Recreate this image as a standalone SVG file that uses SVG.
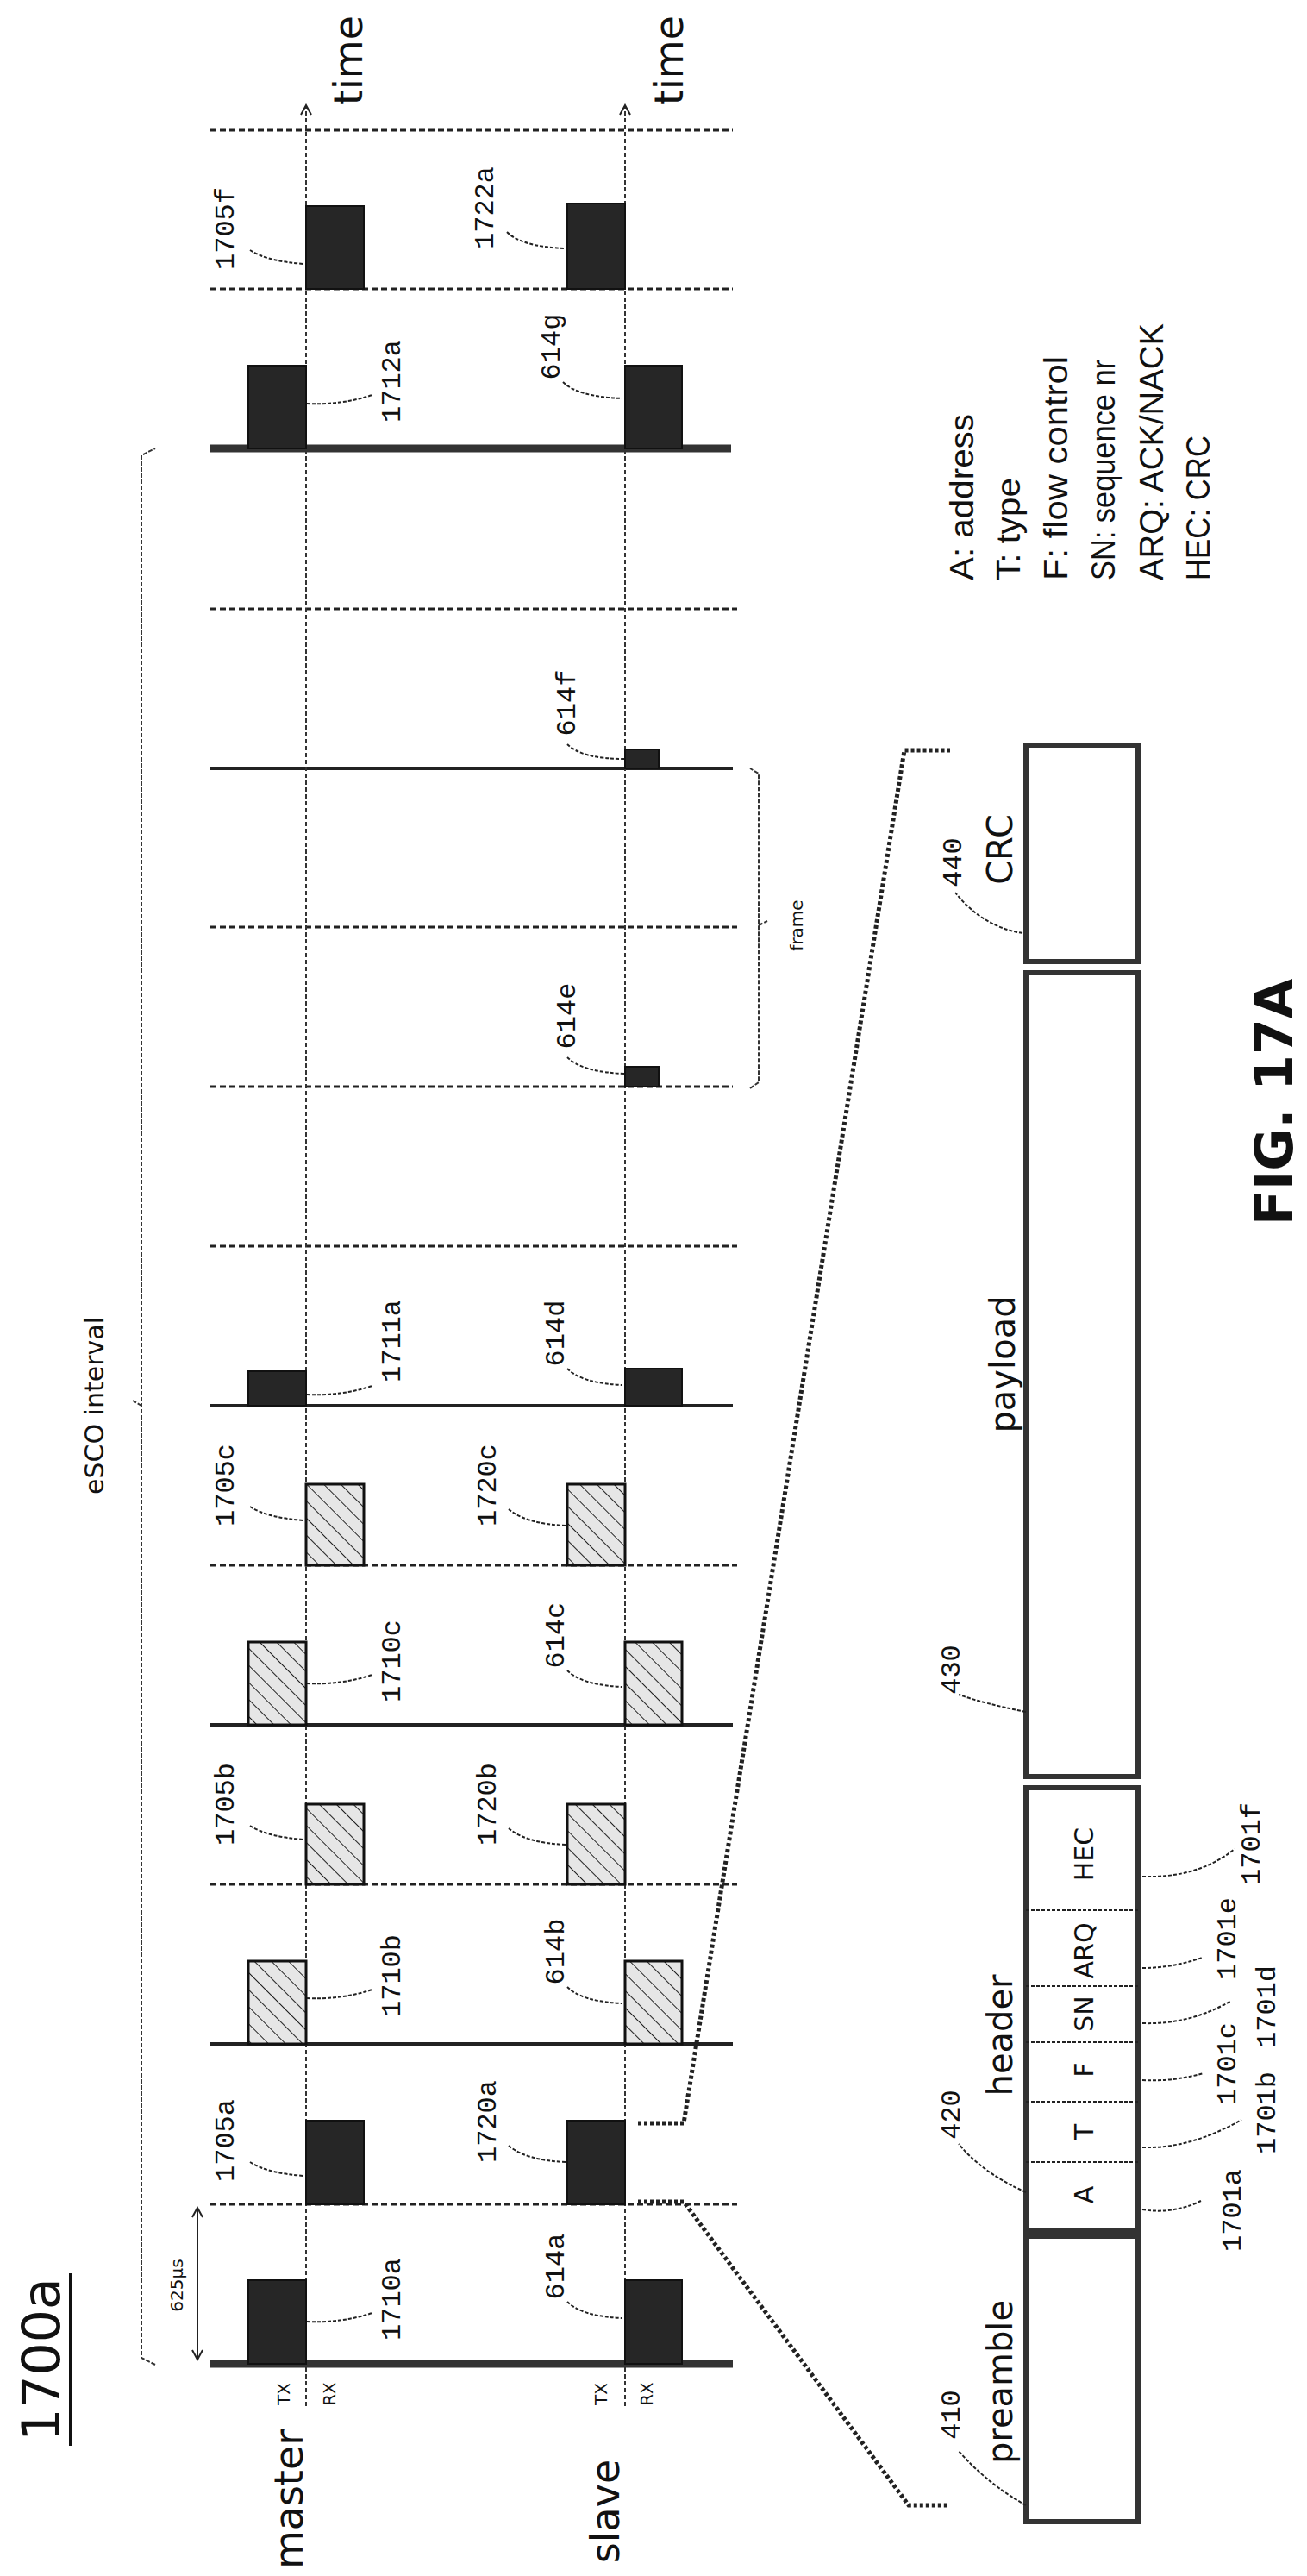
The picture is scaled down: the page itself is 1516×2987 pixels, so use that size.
<svg xmlns="http://www.w3.org/2000/svg" width="1516" height="2987" viewBox="0 0 1516 2987">
<style>
text{font-family:"DejaVu Sans","Liberation Sans",sans-serif;fill:#111;text-anchor:middle;dominant-baseline:central}
.num{font-family:"Liberation Mono","DejaVu Sans Mono",monospace;font-size:32px}
.big{font-size:46px}
.fld{font-size:30px}
.leg{font-family:"Liberation Sans",sans-serif;font-size:38px;text-anchor:start}
.small{font-size:20px}
.blk{fill:#262626;stroke:#111;stroke-width:2}
.hat{fill:url(#hatch);stroke:#111;stroke-width:3}
.dash{stroke:#222;stroke-width:3;stroke-dasharray:7,4;fill:none}
.solid{stroke:#222;stroke-width:4;fill:none}
.thick{stroke:#333;stroke-width:9;fill:none}
.axis{stroke:#333;stroke-width:2;stroke-dasharray:5,3;fill:none}
.lead{stroke:#222;stroke-width:2;stroke-dasharray:4,2;fill:none}
.proj{stroke:#222;stroke-width:5;stroke-dasharray:4,3;fill:none}
.box{fill:#fff;stroke:#333;stroke-width:6}
.brk{stroke:#333;stroke-width:2;stroke-dasharray:5,2;fill:none}
</style>
<defs>
<pattern id="hatch" width="14" height="14" patternUnits="userSpaceOnUse" patternTransform="rotate(-45)">
<rect width="14" height="14" fill="#e6e6e6"/>
<line x1="0" y1="0" x2="0" y2="14" stroke="#222" stroke-width="2"/>
</pattern>
<marker id="arr" markerWidth="14" markerHeight="14" refX="12" refY="7" orient="auto" markerUnits="userSpaceOnUse">
<path d="M1,1 L12,7 L1,13" fill="none" stroke="#222" stroke-width="2"/>
</marker>
<marker id="arrs" markerWidth="14" markerHeight="14" refX="12" refY="7" orient="auto-start-reverse" markerUnits="userSpaceOnUse">
<path d="M1,1 L12,7 L1,13" fill="none" stroke="#222" stroke-width="2"/>
</marker>
</defs>
<rect width="1516" height="2987" fill="#fff"/>

<g id="grid">
<line class="thick" x1="244" y1="2741" x2="850" y2="2741"/>
<line class="dash" x1="244" y1="2556" x2="855" y2="2556"/>
<line class="solid" x1="244" y1="2370" x2="850" y2="2370"/>
<line class="dash" x1="244" y1="2185" x2="855" y2="2185"/>
<line class="solid" x1="244" y1="2000" x2="850" y2="2000"/>
<line class="dash" x1="244" y1="1815" x2="855" y2="1815"/>
<line class="solid" x1="244" y1="1630" x2="850" y2="1630"/>
<line class="dash" x1="244" y1="1445" x2="855" y2="1445"/>
<line class="dash" x1="244" y1="1260" x2="850" y2="1260"/>
<line class="dash" x1="244" y1="1075" x2="855" y2="1075"/>
<line class="solid" x1="244" y1="891" x2="850" y2="891"/>
<line class="dash" x1="244" y1="706" x2="855" y2="706"/>
<line class="thick" x1="244" y1="520" x2="848" y2="520"/>
<line class="dash" x1="244" y1="335" x2="850" y2="335"/>
<line class="dash" x1="244" y1="151" x2="850" y2="151"/>
<line class="axis" x1="355" y1="2790" x2="355" y2="122" marker-end="url(#arr)"/>
<line class="axis" x1="725" y1="2790" x2="725" y2="122" marker-end="url(#arr)"/>
<text class="big" transform="translate(404,70) rotate(-90)">time</text>
<text class="big" transform="translate(776,70) rotate(-90)">time</text>
<text class="big" transform="translate(335,2898) rotate(-90)">master</text>
<text class="big" transform="translate(702,2912) rotate(-90)">slave</text>
<text class="small" transform="translate(329,2776) rotate(-90)">TX</text>
<text class="small" transform="translate(382,2776) rotate(-90)">RX</text>
<text class="small" transform="translate(697,2776) rotate(-90)">TX</text>
<text class="small" transform="translate(750,2776) rotate(-90)">RX</text>
<text style="font-size:60px" transform="translate(48,2736) rotate(-90)">1700a</text>
<line x1="82" y1="2636" x2="82" y2="2836" stroke="#111" stroke-width="4"/>
</g>

<g id="blocks">
<g id="b1710a"><rect class="blk" x="288" y="2644" width="67" height="97"/><text class="num" transform="translate(455,2666) rotate(-90)">1710a</text></g>
<g id="b614a"><rect class="blk" x="725" y="2644" width="66" height="97"/><text class="num" transform="translate(645,2628) rotate(-90)">614a</text></g>
<g id="b1705a"><rect class="blk" x="355" y="2459" width="67" height="97"/><text class="num" transform="translate(262,2482) rotate(-90)">1705a</text></g>
<g id="b1720a"><rect class="blk" x="658" y="2459" width="67" height="97"/><text class="num" transform="translate(566,2460) rotate(-90)">1720a</text></g>
<g id="b1710b"><rect class="hat" x="288" y="2274" width="67" height="96"/><text class="num" transform="translate(455,2291) rotate(-90)">1710b</text></g>
<g id="b614b"><rect class="hat" x="725" y="2274" width="66" height="96"/><text class="num" transform="translate(645,2263) rotate(-90)">614b</text></g>
<g id="b1705b"><rect class="hat" x="355" y="2092" width="67" height="93"/><text class="num" transform="translate(262,2092) rotate(-90)">1705b</text></g>
<g id="b1720b"><rect class="hat" x="658" y="2092" width="67" height="93"/><text class="num" transform="translate(566,2092) rotate(-90)">1720b</text></g>
<g id="b1710c"><rect class="hat" x="288" y="1904" width="67" height="96"/><text class="num" transform="translate(455,1926) rotate(-90)">1710c</text></g>
<g id="b614c"><rect class="hat" x="725" y="1904" width="66" height="96"/><text class="num" transform="translate(645,1896) rotate(-90)">614c</text></g>
<g id="b1705c"><rect class="hat" x="355" y="1721" width="67" height="94"/><text class="num" transform="translate(262,1722) rotate(-90)">1705c</text></g>
<g id="b1720c"><rect class="hat" x="658" y="1721" width="67" height="94"/><text class="num" transform="translate(566,1722) rotate(-90)">1720c</text></g>
<g id="b1711a"><rect class="blk" x="288" y="1590" width="67" height="40"/><text class="num" transform="translate(455,1555) rotate(-90)">1711a</text></g>
<g id="b614d"><rect class="blk" x="725" y="1587" width="66" height="43"/><text class="num" transform="translate(645,1546) rotate(-90)">614d</text></g>
<g id="b614e"><rect class="blk" x="725" y="1237" width="39" height="23"/><text class="num" transform="translate(658,1178) rotate(-90)">614e</text></g>
<g id="b614f"><rect class="blk" x="725" y="869" width="39" height="22"/><text class="num" transform="translate(658,815) rotate(-90)">614f</text></g>
<g id="b1712a"><rect class="blk" x="288" y="424" width="67" height="96"/><text class="num" transform="translate(455,442) rotate(-90)">1712a</text></g>
<g id="b614g"><rect class="blk" x="725" y="424" width="66" height="96"/><text class="num" transform="translate(640,402) rotate(-90)">614g</text></g>
<g id="b1705f"><rect class="blk" x="355" y="239" width="67" height="96"/><text class="num" transform="translate(262,265) rotate(-90)">1705f</text></g>
<g id="b1722a"><rect class="blk" x="658" y="236" width="67" height="99"/><text class="num" transform="translate(563,241) rotate(-90)">1722a</text></g>
</g>

<g id="packet">
<g id="p410"><rect class="box" x="1190" y="2593" width="130" height="331"/><text class="big" style="font-size:40px" transform="translate(1160,2762) rotate(-90)">preamble</text><text class="num" transform="translate(1104,2800) rotate(-90)">410</text></g>
<g id="p420"><rect class="box" x="1190" y="2073" width="130" height="514"/>
<line class="lead" x1="1190" y1="2507" x2="1320" y2="2507"/><line class="lead" x1="1190" y1="2437" x2="1320" y2="2437"/><line class="lead" x1="1190" y1="2368" x2="1320" y2="2368"/><line class="lead" x1="1190" y1="2303" x2="1320" y2="2303"/><line class="lead" x1="1190" y1="2215" x2="1320" y2="2215"/>
<text class="fld" transform="translate(1257,2545) rotate(-90)">A</text><text class="fld" transform="translate(1257,2472) rotate(-90)">T</text><text class="fld" transform="translate(1257,2400) rotate(-90)">F</text><text class="fld" transform="translate(1257,2335) rotate(-90)">SN</text><text class="fld" transform="translate(1257,2262) rotate(-90)">ARQ</text><text class="fld" transform="translate(1257,2150) rotate(-90)">HEC</text>
<text class="big" style="font-size:40px" transform="translate(1160,2360) rotate(-90)">header</text><text class="num" transform="translate(1104,2452) rotate(-90)">420</text></g>
<g id="p430"><rect class="box" x="1190" y="1128" width="130" height="932"/><text class="big" style="font-size:40px" transform="translate(1163,1582) rotate(-90)">payload</text><text class="num" transform="translate(1104,1936) rotate(-90)">430</text></g>
<g id="p440"><rect class="box" x="1190" y="864" width="130" height="251"/><text class="big" style="font-size:40px" transform="translate(1160,985) rotate(-90)">CRC</text><text class="num" transform="translate(1106,1000) rotate(-90)">440</text></g>
<text class="num" transform="translate(1430,2563) rotate(-90)">1701a</text>
<text class="num" transform="translate(1470,2450) rotate(-90)">1701b</text>
<text class="num" transform="translate(1424,2393) rotate(-90)">1701c</text>
<text class="num" transform="translate(1470,2327) rotate(-90)">1701d</text>
<text class="num" transform="translate(1424,2248) rotate(-90)">1701e</text>
<text class="num" transform="translate(1452,2138) rotate(-90)">1701f</text>
</g>

<g id="legend">
<text class="leg" transform="translate(1116,673) rotate(-90)" textLength="193" lengthAdjust="spacingAndGlyphs">A: address</text>
<text class="leg" transform="translate(1170,673) rotate(-90)" textLength="119" lengthAdjust="spacingAndGlyphs">T: type</text>
<text class="leg" transform="translate(1225,673) rotate(-90)" textLength="260" lengthAdjust="spacingAndGlyphs">F: flow control</text>
<text class="leg" transform="translate(1280,673) rotate(-90)" textLength="256" lengthAdjust="spacingAndGlyphs">SN: sequence nr</text>
<text class="leg" transform="translate(1336,673) rotate(-90)" textLength="298" lengthAdjust="spacingAndGlyphs">ARQ: ACK/NACK</text>
<text class="leg" transform="translate(1390,673) rotate(-90)" textLength="168" lengthAdjust="spacingAndGlyphs">HEC: CRC</text>
<text style="font-size:60px;font-weight:bold" transform="translate(1478,1278) rotate(-90)">FIG. 17A</text>
</g>

<g id="connectors">
<path class="lead" d="M356,2692 Q395,2694 432,2682"/>
<path class="lead" d="M290,2507 Q310,2520 353,2523"/>
<path class="lead" d="M658,2669 Q675,2686 722,2688"/>
<path class="lead" d="M590,2488 Q610,2505 656,2507"/>
<path class="lead" d="M356,2317 Q395,2319 432,2307"/>
<path class="lead" d="M658,2304 Q675,2321 722,2323"/>
<path class="lead" d="M290,2117 Q310,2130 353,2133"/>
<path class="lead" d="M590,2120 Q610,2137 656,2139"/>
<path class="lead" d="M356,1952 Q395,1954 432,1942"/>
<path class="lead" d="M658,1937 Q675,1954 722,1956"/>
<path class="lead" d="M290,1747 Q310,1760 353,1763"/>
<path class="lead" d="M590,1750 Q610,1767 656,1769"/>
<path class="lead" d="M356,1617 Q395,1619 432,1607"/>
<path class="lead" d="M658,1587 Q675,1604 722,1606"/>
<path class="lead" d="M658,1226 Q675,1243 724,1245"/>
<path class="lead" d="M658,863 Q675,880 724,880"/>
<path class="lead" d="M356,468 Q395,470 432,458"/>
<path class="lead" d="M653,443 Q670,460 722,462"/>
<path class="lead" d="M290,290 Q310,303 353,306"/>
<path class="lead" d="M588,269 Q605,286 655,288"/>
<path class="lead" d="M1190,2905 Q1145,2880 1112,2842"/>
<path class="lead" d="M1190,2542 Q1140,2520 1112,2486"/>
<path class="lead" d="M1190,1985 Q1140,1975 1112,1965"/>
<path class="lead" d="M1186,1082 Q1140,1075 1108,1035"/>
<path class="lead" d="M1325,2562 Q1360,2568 1393,2552"/>
<path class="lead" d="M1325,2490 Q1380,2492 1440,2458"/>
<path class="lead" d="M1325,2412 Q1360,2414 1396,2404"/>
<path class="lead" d="M1325,2346 Q1380,2348 1428,2320"/>
<path class="lead" d="M1325,2282 Q1360,2282 1394,2270"/>
<path class="lead" d="M1325,2176 Q1390,2178 1432,2144"/>
<path class="proj" d="M740,2462 L793,2462 L1049,870 L1102,870"/>
<path class="proj" d="M740,2553 L793,2553 L1054,2905 L1100,2905"/>
<line class="lead" x1="229" y1="2560" x2="229" y2="2736" marker-start="url(#arrs)" marker-end="url(#arrs)" style="stroke-dasharray:none"/>
<text class="small" transform="translate(205,2650) rotate(-90)">625μs</text>
<path class="brk" d="M180,2742 L164,2734 L164,528 L180,520 M164,1630 L154,1624"/>
<text style="font-size:30px" transform="translate(109,1630) rotate(-90)">eSCO interval</text>
<path class="brk" d="M870,1262 L880,1255 L880,897 L870,891 M880,1073 L890,1068"/>
<text class="small" transform="translate(924,1073) rotate(-90)">frame</text>
</g>
</svg>
